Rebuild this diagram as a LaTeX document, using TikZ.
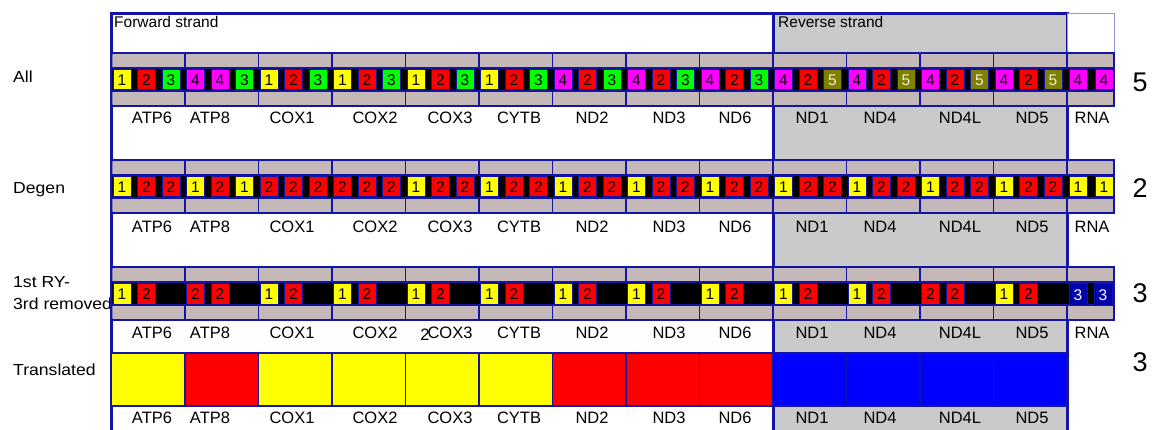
\documentclass[tikz,border=0pt]{standalone}
\usepackage{fontspec}
\setmainfont{Liberation Sans}
\definecolor{frame}{RGB}{20,20,165}
\definecolor{band}{RGB}{197,184,184}
\definecolor{revgray}{RGB}{202,202,202}
\definecolor{rnablue}{RGB}{0,0,170}
\definecolor{d1}{RGB}{255,255,0}
\definecolor{d2}{RGB}{255,0,0}
\definecolor{d3}{RGB}{0,255,0}
\definecolor{d4}{RGB}{255,0,255}
\definecolor{d5}{RGB}{128,128,0}
\colorlet{t1}{black}
\colorlet{t2}{black}
\colorlet{t3}{black}
\colorlet{t4}{black}
\definecolor{t5}{RGB}{240,240,215}
\definecolor{tY}{RGB}{255,255,0}
\definecolor{tR}{RGB}{255,0,0}
\definecolor{tB}{RGB}{0,0,255}
\newcommand{\fs}[1]{\fontsize{#1}{#1}\selectfont}
\tikzset{
  sq/.style={draw=frame, line width=1pt, minimum width=18pt, minimum height=20pt,
             inner sep=0pt, font=\fs{15.5}},
  genelabel/.style={font=\fs{16.5}, inner sep=0pt},
  rowlabel/.style={font=\fs{16}, inner sep=0pt, anchor=west},
  count/.style={font=\fs{27}, inner sep=0pt},
  strandlabel/.style={font=\fs{15.5}, inner sep=0pt, anchor=north west},
  bandbox/.style={draw=frame, line width=1.2pt, fill=band},
}
\begin{document}
\begin{tikzpicture}[x=1pt, y=-1pt]
\useasboundingbox (0,0) rectangle (1154,430);
\clip (0,0) rectangle (1154,430);

% row captions on the left (the frame is drawn over their right end)
\node[rowlabel] (lab-all) at (13,77) {\scalebox{1.1}[1]{All}};
\node[rowlabel] (lab-degen) at (13,190) {\scalebox{1.1}[1]{Degen}};
\node[rowlabel] (lab-ry1) at (13,282) {\scalebox{1.1}[1]{1st RY-}};
\node[rowlabel] (lab-ry2) at (13,304) {\scalebox{1.1}[1]{3rd removed}};
\node[rowlabel] (lab-tr) at (13,370) {\scalebox{1.1}[1]{Translated}};

% strand frames
\draw[frame, line width=3pt, fill=white] (111.5,14) rectangle (773,450);
\draw[frame, line width=3pt, fill=revgray] (773,14) rectangle (1067,450);
\draw[frame!45, line width=1pt, fill=white] (1067,14) rectangle (1114,53);
\node[strandlabel] (fwd) at (114,16) {Forward strand};
\node[strandlabel] (rev) at (778,16) {Reverse strand};

% three codon rows: gray bands per gene around a black strip
\foreach \yt in {53,160,267}{
  \fill[black] (111.5,\yt+15) rectangle (1114,\yt+38);
  \foreach \i in {0,...,12}{
    \pgfmathsetmacro\L{111.5+73.5*\i}
    \draw[bandbox] (\L,\yt) rectangle (\L+73.5,\yt+15);
    \draw[bandbox] (\L,\yt+38) rectangle (\L+73.5,\yt+53);
  }
  \draw[bandbox] (1067,\yt) rectangle (1114,\yt+15);
  \draw[bandbox] (1067,\yt+38) rectangle (1114,\yt+53);
  \draw[frame, line width=1.5pt, rounded corners=2pt] (111.5,\yt) rectangle (1114,\yt+53);
}

% row "All"
\foreach \i/\a/\b/\c in {0/1/2/3,1/4/4/3,2/1/2/3,3/1/2/3,4/1/2/3,5/1/2/3,6/4/2/3,
    7/4/2/3,8/4/2/3,9/4/2/5,10/4/2/5,11/4/2/5,12/4/2/5}{
  \pgfmathsetmacro\L{111.5+73.5*\i}
  \node[sq, fill=d\a, text=t\a] (all-\i-a) at (\L+10.5,80) {\a};
  \node[sq, fill=d\b, text=t\b] (all-\i-b) at (\L+35,80) {\b};
  \node[sq, fill=d\c, text=t\c] (all-\i-c) at (\L+59.5,80) {\c};
}
\node[sq, fill=d4] (all-rna-a) at (1078,80) {4};
\node[sq, fill=d4] (all-rna-b) at (1104,80) {4};

% row "Degen"
\foreach \i/\a/\b/\c in {0/1/2/2,1/1/2/1,2/2/2/2,3/2/2/2,4/1/2/2,5/1/2/2,6/1/2/2,
    7/1/2/2,8/1/2/2,9/1/2/2,10/1/2/2,11/1/2/2,12/1/2/2}{
  \pgfmathsetmacro\L{111.5+73.5*\i}
  \node[sq, fill=d\a, text=t\a] (deg-\i-a) at (\L+10.5,187) {\a};
  \node[sq, fill=d\b, text=t\b] (deg-\i-b) at (\L+35,187) {\b};
  \node[sq, fill=d\c, text=t\c] (deg-\i-c) at (\L+59.5,187) {\c};
}
\node[sq, fill=d1] (deg-rna-a) at (1078,187) {1};
\node[sq, fill=d1] (deg-rna-b) at (1104,187) {1};

% row "1st RY- 3rd removed"
\foreach \i/\a/\b in {0/1/2,1/2/2,2/1/2,3/1/2,4/1/2,5/1/2,6/1/2,
    7/1/2,8/1/2,9/1/2,10/1/2,11/2/2,12/1/2}{
  \pgfmathsetmacro\L{111.5+73.5*\i}
  \node[sq, fill=d\a, text=t\a, minimum height=21pt] (ry-\i-a) at (\L+10.5,294) {\a};
  \node[sq, fill=d\b, text=t\b, minimum height=21pt] (ry-\i-b) at (\L+35,294) {\b};
}
\node[sq, fill=rnablue, text=white, minimum height=22pt] (ry-rna-a) at (1078,295) {3};
\node[sq, fill=rnablue, text=white, minimum height=22pt] (ry-rna-b) at (1103,295) {3};

% row "Translated"
\foreach \i/\c in {0/Y,1/R,2/Y,3/Y,4/Y,5/Y,6/R,7/R,8/R,9/B,10/B,11/B,12/B}{
  \pgfmathsetmacro\L{111.5+73.5*\i}
  \draw[frame, line width=1.2pt, fill=t\c] (\L,353) rectangle (\L+73.5,406);
}

% gene names under each row
\foreach \yy/\r in {118/1,227/2,333/3,418/4}{
  \foreach \x/\g in {152/ATP6,210/ATP8,292/COX1,375/COX2,450/COX3,519/CYTB,
      592/ND2,669/ND3,735/ND6,812/ND1,880/ND4,960/ND4L,1032/ND5}{
    \node[genelabel] (g\r-\g) at (\x,\yy) {\g};
  }
}
\foreach \yy/\r in {118/1,227/2,333/3}{
  \node[genelabel] (g\r-RNA) at (1092,\yy) {RNA};
}
\node[genelabel] (stray2) at (425,335) {2};

% counts on the right
\node[count] (n-all) at (1140,82) {5};
\node[count] (n-deg) at (1140,188) {2};
\node[count] (n-ry) at (1140,293) {3};
\node[count] (n-tr) at (1140,362) {3};
\end{tikzpicture}
\end{document}
